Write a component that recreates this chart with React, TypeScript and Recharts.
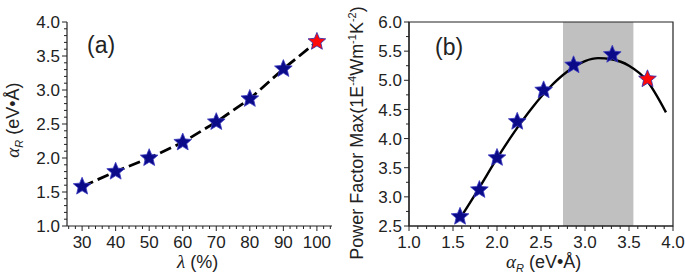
import React from 'react';
import {
  ComposedChart,
  Line,
  Scatter,
  XAxis,
  YAxis,
  ReferenceArea,
} from 'recharts';

// panel (a): Rashba parameter vs lambda
const lambdaPct = [30, 40, 50, 60, 70, 80, 90, 100];
const alphaR = [1.58, 1.8, 2.0, 2.23, 2.53, 2.87, 3.31, 3.71];
// panel (b): max power factor vs alpha_R
const pfMax = [2.66, 3.12, 3.67, 4.29, 4.83, 5.26, 5.44, 5.02];
const fitAlpha = [1.58, 1.8, 2.0, 2.2, 2.4, 2.6, 2.8, 3.0, 3.15, 3.3, 3.5, 3.7, 3.92];
const fitPf = [2.63, 3.16, 3.66, 4.12, 4.53, 4.88, 5.15, 5.33, 5.38, 5.36, 5.25, 5.0, 4.45];
const highlightIndex = 7;
const shadeRange = [2.75, 3.55];

const aXTicks = [26, 28, 30, 32, 34, 36, 38, 40, 42, 44, 46, 48, 50, 52, 54, 56, 58, 60, 62, 64, 66, 68, 70, 72, 74, 76, 78, 80, 82, 84, 86, 88, 90, 92, 94, 96, 98, 100, 102, 104];
const aYTicks = Array.from({ length: 31 }, (_, i) => +(1 + i * 0.1).toFixed(1));
const bXTicks = Array.from({ length: 31 }, (_, i) => +(1 + i * 0.1).toFixed(1));
const bYTicks = [2.5, 2.75, 3, 3.25, 3.5, 3.75, 4, 4.25, 4.5, 4.75, 5, 5.25, 5.5, 5.75, 6];

const panelA = lambdaPct.map((x, i) => ({ x, y: alphaR[i], hl: i === highlightIndex }));
const panelB = alphaR.map((x, i) => ({ x, y: pfMax[i], hl: i === highlightIndex }));
const fitB = fitAlpha.map((x, i) => ({ x, y: fitPf[i] }));

const FONT = '"Liberation Sans", Arial, sans-serif';
const AXIS = '#222';
const NAVY = '#0b0b8a';

const isMult = (v: number, step: number) => Math.abs(v / step - Math.round(v / step)) < 1e-6;

const Star = (props: any) => {
  const { cx, cy, payload } = props;
  if (cx == null || cy == null) return null;
  const R = 9.3;
  const r = 4.2;
  let d = '';
  for (let k = 0; k < 10; k++) {
    const rad = k % 2 === 0 ? R : r;
    const ang = -Math.PI / 2 + (k * Math.PI) / 5;
    d += (k === 0 ? 'M' : 'L') + (cx + rad * Math.cos(ang)).toFixed(2) + ',' + (cy + rad * Math.sin(ang)).toFixed(2);
  }
  d += 'Z';
  return (
    <path
      d={d}
      fill={payload.hl ? '#ff0a0a' : NAVY}
      stroke={payload.hl ? '#2a2ab0' : '#3a3ac0'}
      strokeWidth={0.8}
    />
  );
};

const makeTick = (orient: 'left' | 'bottom', step: number, decimals = 1) => (props: any) => {
  const { x, y, payload } = props;
  const v = payload.value;
  const major = isMult(v, step);
  const len = major ? 5 : 3;
  if (orient === 'left') {
    return (
      <g>
        <line x1={x} x2={x - len} y1={y} y2={y} stroke={AXIS} strokeWidth={1} />
        {major && (
          <text x={x - 7} y={y} dy="0.36em" textAnchor="end" fontSize={17} fontFamily={FONT} fill="#222">
            {v.toFixed(decimals)}
          </text>
        )}
      </g>
    );
  }
  return (
    <g>
      <line x1={x} x2={x} y1={y} y2={y + len} stroke={AXIS} strokeWidth={1} />
      {major && (
        <text x={x} y={248} textAnchor="middle" fontSize={17} fontFamily={FONT} fill="#222">
          {v.toFixed(decimals)}
        </text>
      )}
    </g>
  );
};

const textStyle: React.CSSProperties = {
  position: 'absolute',
  fontFamily: FONT,
  fontSize: 17,
  color: '#222',
  whiteSpace: 'nowrap',
  lineHeight: 1,
};

const Alpha = () => (
  <span>
    <span style={{ fontFamily: '"Liberation Serif", serif', fontStyle: 'italic', fontSize: 19 }}>α</span>
    <span style={{ fontStyle: 'italic', fontSize: 11, position: 'relative', top: 4 }}>R</span>
  </span>
);

export default function App() {
  return (
    <div style={{ position: 'absolute', left: 0, top: 0, width: 685, height: 273, background: '#fff' }}>
      <div style={{ position: 'absolute', left: 0, top: 0 }}>
        <ComposedChart width={345} height={273} margin={{ top: 22, right: 13, bottom: 7, left: 0 }}>
          <XAxis
            type="number"
            dataKey="x"
            domain={[25.5, 104.5]}
            allowDataOverflow
            ticks={aXTicks}
            interval={0}
            tickSize={0}
            tickMargin={0}
            tickLine={false}
            tick={makeTick('bottom', 10, 0)}
            axisLine={{ stroke: AXIS, strokeWidth: 1.2 }}
            height={40}
          />
          <YAxis
            type="number"
            dataKey="y"
            domain={[1, 4]}
            allowDataOverflow
            ticks={aYTicks}
            interval={0}
            tickSize={0}
            tickMargin={0}
            tickLine={false}
            tick={makeTick('left', 0.5)}
            axisLine={{ stroke: AXIS, strokeWidth: 1.2 }}
            width={67}
          />
          <Line
            data={panelA}
            dataKey="y"
            type="linear"
            stroke="#000"
            strokeWidth={2.8}
            strokeDasharray="12 5"
            dot={false}
            isAnimationActive={false}
          />
          <Scatter data={panelA} dataKey="y" shape={<Star />} isAnimationActive={false} />
        </ComposedChart>
      </div>
      <div style={{ position: 'absolute', left: 345, top: 0 }}>
        <ComposedChart width={340} height={273} margin={{ top: 22, right: 12, bottom: 7, left: 0 }}>
          <XAxis
            type="number"
            dataKey="x"
            domain={[1, 4]}
            allowDataOverflow
            ticks={bXTicks}
            interval={0}
            tickSize={0}
            tickMargin={0}
            tickLine={false}
            tick={makeTick('bottom', 0.5)}
            axisLine={{ stroke: AXIS, strokeWidth: 1.2 }}
            height={40}
          />
          <YAxis
            type="number"
            dataKey="y"
            domain={[2.5, 6]}
            allowDataOverflow
            ticks={bYTicks}
            interval={0}
            tickSize={0}
            tickMargin={0}
            tickLine={false}
            tick={makeTick('left', 0.5)}
            axisLine={{ stroke: AXIS, strokeWidth: 1.2 }}
            width={64}
          />
          <ReferenceArea x1={shadeRange[0]} x2={shadeRange[1]} y1={2.5} y2={6} fill="#c0c0c0" fillOpacity={1} stroke="none" />
          <ReferenceArea x1={1} x2={4} y1={2.5} y2={6} fill="none" stroke={AXIS} strokeWidth={1.2} />
          <Line
            data={fitB}
            dataKey="y"
            type="monotone"
            stroke="#000"
            strokeWidth={2.4}
            dot={false}
            isAnimationActive={false}
          />
          <Scatter data={panelB} dataKey="y" shape={<Star />} isAnimationActive={false} />
        </ComposedChart>
      </div>

      <div style={{ ...textStyle, left: 87, top: 34, fontSize: 23 }}>(a)</div>
      <div style={{ ...textStyle, left: 435, top: 36, fontSize: 23 }}>(b)</div>

      <div style={{ ...textStyle, left: 177, top: 252, fontSize: 18 }}>
        <span style={{ fontFamily: '"Liberation Serif", serif', fontStyle: 'italic', fontSize: 19 }}>λ</span> (%)
      </div>
      <div style={{ ...textStyle, left: 506, top: 252, fontSize: 18 }}>
        <Alpha /> (eV•Å)
      </div>
      <div
        style={{
          ...textStyle,
          fontSize: 18,
          left: 12,
          top: 120,
          transform: 'translate(-50%, -50%) rotate(-90deg)',
        }}
      >
        <Alpha /> (eV•Å)
      </div>
      <div
        style={{
          ...textStyle,
          fontSize: 18,
          left: 357,
          top: 133,
          transform: 'translate(-50%, -50%) rotate(-90deg)',
        }}
      >
        Power Factor Max(1E
        <span style={{ fontSize: 11, position: 'relative', top: -7 }}>-4</span>
        Wm
        <span style={{ fontSize: 11, position: 'relative', top: -7 }}>-1</span>
        K
        <span style={{ fontSize: 11, position: 'relative', top: -7 }}>-2</span>)
      </div>
    </div>
  );
}
